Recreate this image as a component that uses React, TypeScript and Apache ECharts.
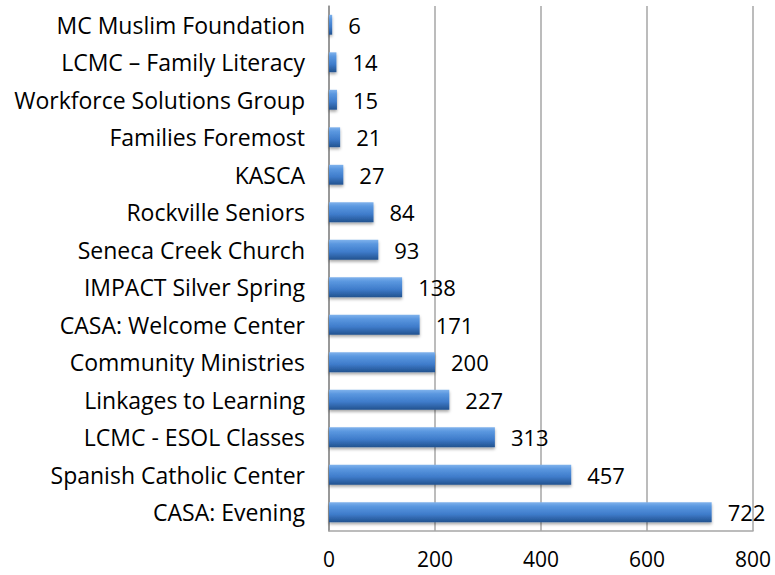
import React, { useEffect, useRef } from "react";
import * as echarts from "echarts";

const categories = [
  "CASA: Evening",
  "Spanish Catholic Center",
  "LCMC - ESOL Classes",
  "Linkages to Learning",
  "Community Ministries",
  "CASA: Welcome Center",
  "IMPACT Silver Spring",
  "Seneca Creek Church",
  "Rockville Seniors",
  "KASCA",
  "Families Foremost",
  "Workforce Solutions Group",
  "LCMC – Family Literacy",
  "MC Muslim Foundation",
];
const values = [722, 457, 313, 227, 200, 171, 138, 93, 84, 27, 21, 15, 14, 6];

const FONT = "'Open Sans', sans-serif";

export default function App() {
  const ref = useRef<HTMLDivElement>(null);
  useEffect(() => {
    document.body.style.margin = "0";
    if (!ref.current) return;
    const chart = echarts.init(ref.current, null, { renderer: "svg" });
    chart.setOption({
      animation: false,
      grid: { left: 329, right: 22, top: 6, bottom: 44, containLabel: false },
      xAxis: {
        type: "value",
        min: 0,
        max: 800,
        interval: 200,
        axisLine: { show: true, lineStyle: { color: "#a6a6a6", width: 1.5 } },
        axisTick: { show: false },
        splitLine: { show: true, lineStyle: { color: "#a6a6a6", width: 1.5 } },
        axisLabel: {
          color: "#000",
          fontSize: 21,
          lineHeight: 20,
          fontFamily: FONT,
          margin: 18,
        },
      },
      yAxis: {
        type: "category",
        data: categories,
        axisLine: { show: true, lineStyle: { color: "#8c8c8c", width: 1.5 } },
        axisTick: { show: false },
        axisLabel: { color: "#000", fontSize: 23, fontFamily: FONT, margin: 24 },
      },
      series: [
        {
          type: "bar",
          data: values,
          barWidth: "53%",
          itemStyle: {
            color: new echarts.graphic.LinearGradient(0, 0, 0, 1, [
              { offset: 0, color: "#7fb2ec" },
              { offset: 0.2, color: "#5b98e0" },
              { offset: 0.6, color: "#3f7ccb" },
              { offset: 1, color: "#22528f" },
            ]),
            shadowBlur: 3,
            shadowColor: "rgba(0,0,0,0.35)",
            shadowOffsetY: 2,
          },
          label: {
            show: true,
            position: "right",
            distance: 16,
            color: "#000",
            fontSize: 22,
            fontFamily: FONT,
          },
        },
      ],
    });
    return () => chart.dispose();
  }, []);
  return <div ref={ref} style={{ width: 775, height: 575 }} />;
}
